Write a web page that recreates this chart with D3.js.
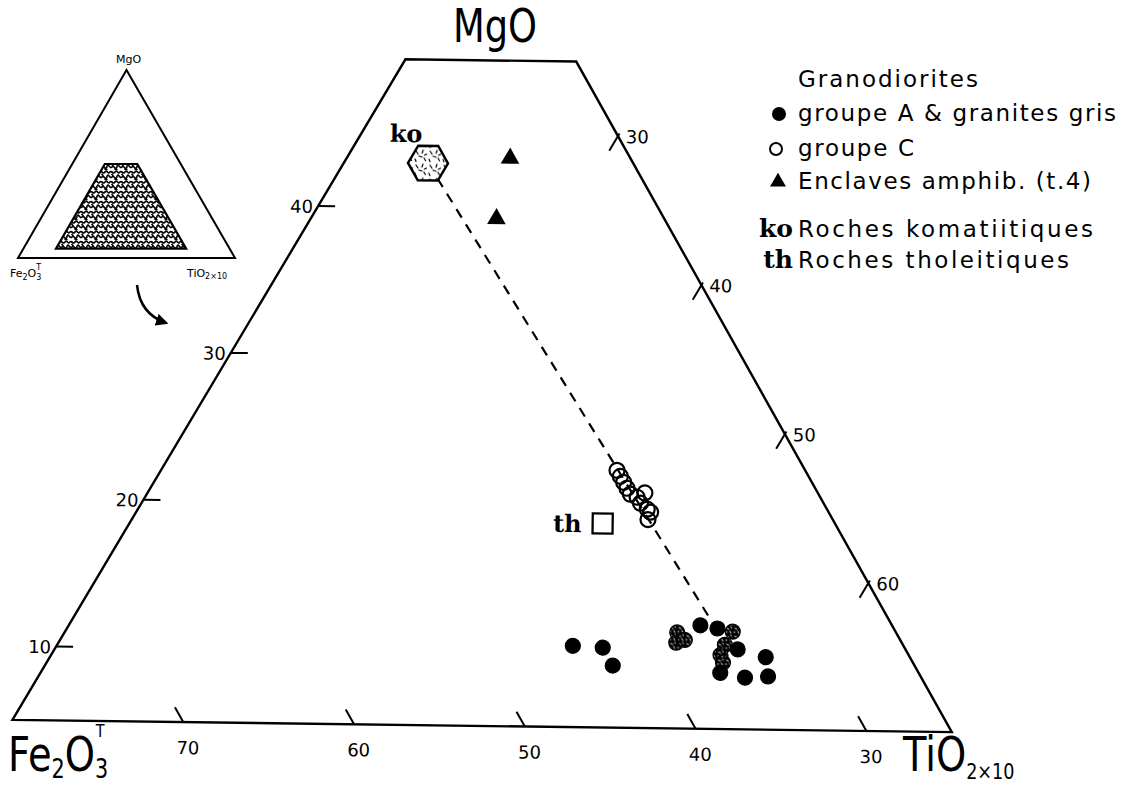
<!DOCTYPE html>
<html><head><meta charset="utf-8">
<script src="https://cdn.jsdelivr.net/npm/d3@7/dist/d3.min.js"></script>
<style>html,body{margin:0;padding:0;background:#fff;}svg{display:block;}</style>
</head><body>
<script>
// ===== DATA : ternary compositions (MgO / Fe2O3T / TiO2x10, %) =====
const frameMgO = [5, 50];      // truncated diagram : MgO from 5 to 50
const frameTiMin = 15;          // left side  : TiO2x10 = 15
const frameFeMin = 25;          // right side : Fe2O3T = 25
const insetFeMin = 20;          // locator trapezoid of the inset, as drawn
const mgoTicks = [10, 20, 30, 40];
const feTicks = [70, 60, 50, 40, 30];
const tiTicks = [30, 40, 50, 60];

// Granodiorites groupe A & granites gris (filled circles)
const groupeA_MgO = [10.5, 10.4, 9.2, 11.5, 10.8, 11.0, 12.0, 11.8, 11.6, 10.7, 10.0, 10.4, 9.5, 8.8, 8.5, 9.9, 8.6];
const groupeA_Fe  = [44.5, 42.8, 42.8, 37.9, 38.3, 37.7, 36.3, 35.4, 34.6, 35.5, 36.1, 34.9, 36.2, 36.7, 35.4, 33.5, 34.0];
const groupeA_Ti  = [45.0, 46.8, 48.0, 50.6, 50.9, 51.3, 51.7, 52.8, 53.8, 53.8, 53.9, 54.7, 54.3, 54.5, 56.1, 56.6, 57.4];

// Granodiorites groupe C (open circles)
const groupeC_MgO = [22.4, 22.0, 21.6, 21.2, 20.8, 20.6, 20.9, 20.2, 19.8, 19.6, 19.1];
const groupeC_Fe  = [36.1, 36.1, 36.1, 36.1, 36.1, 35.8, 35.2, 35.8, 35.6, 35.5, 35.9];
const groupeC_Ti  = [41.5, 41.9, 42.3, 42.7, 43.1, 43.6, 43.9, 44.0, 44.6, 44.9, 45.0];

// Enclaves amphiboliques (filled triangles)
const enclaves_MgO = [43.4, 39.3];
const enclaves_Fe  = [32.1, 34.9];
const enclaves_Ti  = [24.5, 25.8];

// Roches komatiitiques (ko) and tholeitiques (th)
const komatiite_MgO = [43.0], komatiite_Fe = [37.1], komatiite_Ti = [19.9];
const tholeiite_MgO = [18.8], tholeiite_Fe = [38.7], tholeiite_Ti = [42.5];

// dashed trend from komatiites toward granodiorites
const trend_MgO = [43.0, 12.2];
const trend_Fe  = [37.1, 35.5];
const trend_Ti  = [19.9, 52.3];

const legendTitle = "Granodiorites";
const legendSeries = ["groupe A & granites gris", "groupe C", "Enclaves amphib. (t.4)"];
const legendRocks = [["ko", "Roches komatiitiques"], ["th", "Roches tholeitiques"]];

// ===== DRAWING =====
const W = 1125, H = 787;
const FONT = "'DejaVu Sans', 'Noto Sans', sans-serif";
const SERIF = "'DejaVu Serif', 'Liberation Serif', serif";
const svg = d3.select("body").append("svg").attr("width", W).attr("height", H)
  .attr("viewBox", `0 0 ${W} ${H}`).style("font-family", FONT);
svg.append("rect").attr("width", W).attr("height", H).attr("fill", "#fff");
const defs = svg.append("defs");

function pattern(id, size, bg, fg, d, sw) {
  const p = defs.append("pattern").attr("id", id).attr("patternUnits", "userSpaceOnUse")
    .attr("width", size).attr("height", size);
  p.append("rect").attr("width", size).attr("height", size).attr("fill", bg);
  p.append("path").attr("d", d).attr("stroke", fg).attr("stroke-width", sw)
    .attr("fill", "none").attr("stroke-linecap", "round");
}
pattern("dashLight", 14, "#fff", "#000", "M2,2l2,3M9,1l-1,3M5,7l3,1M1,10l1,2.5M10,9l1.5,2.5M12.5,5l-2,1", 1.2);
pattern("squiggle", 10, "#fff", "#000", "M0,2c2,-2 3,3 5,0s3,3 5,0M0,7c2,2 2,-2 4,0s3,2 3,-1M8,5l2,2M2,4.5l1,1M5,9l2,1", 1.7);
pattern("darkSpeck", 8, "#000", "#fff", "M2,2l2,1M5,5l1,2M1,6l1,0M6,1l0.5,1", 0.9);

defs.append("marker").attr("id", "arrowHead").attr("viewBox", "0 0 10 10")
  .attr("refX", 8).attr("refY", 5).attr("markerWidth", 5).attr("markerHeight", 5)
  .attr("orient", "auto").attr("markerUnits", "strokeWidth")
  .append("path").attr("d", "M0,0L10,5L0,10Z").attr("fill", "#000");

// --- ternary projection (equilateral), main diagram ---
const xc = (m, t) => t + m / 2;
const yScale = d3.scaleLinear().domain(frameMgO).range([727, 61.4]);
const xScale = d3.scaleLinear()
  .domain([xc(frameMgO[0], frameTiMin), xc(frameMgO[0], 100 - frameMgO[0] - frameFeMin)])
  .range([16.8, 956.2]);
function proj(m, f, t) {
  const s = m + f + t, M = m * 100 / s, T = t * 100 / s;
  return [xScale(xc(M, T)), yScale(M)];
}
const main = svg.append("g").attr("transform", "rotate(0.75,562,393)");

const cornersOf = feMin => [
  [frameMgO[0], 100 - frameMgO[0] - frameTiMin, frameTiMin],
  [frameMgO[0], feMin, 100 - frameMgO[0] - feMin],
  [frameMgO[1], feMin, 100 - frameMgO[1] - feMin],
  [frameMgO[1], 100 - frameMgO[1] - frameTiMin, frameTiMin]
];
const corners = cornersOf(frameFeMin);
main.append("path").attr("d", d3.line()(corners.map(c => proj(...c))) + "Z")
  .attr("fill", "none").attr("stroke", "#000").attr("stroke-width", 2.4).attr("stroke-linejoin", "miter");

function unit(a, b) { const dx = b[0] - a[0], dy = b[1] - a[1], l = Math.hypot(dx, dy); return [dx / l, dy / l]; }
const TICK = 17;
const tickG = main.append("g").attr("stroke", "#000").attr("stroke-width", 2);
const labG = main.append("g").attr("font-size", 18).attr("fill", "#000");

// MgO ticks on left side
mgoTicks.forEach(m => {
  const p = proj(m, 100 - m - frameTiMin, frameTiMin);
  tickG.append("line").attr("x1", p[0]).attr("y1", p[1]).attr("x2", p[0] + TICK).attr("y2", p[1]);
  labG.append("text").attr("x", p[0] - 5).attr("y", p[1] + 7).attr("text-anchor", "end").text(m);
});
// Fe2O3 ticks on bottom side
feTicks.forEach(f => {
  const m0 = frameMgO[0];
  const p = proj(m0, f, 100 - m0 - f), q = proj(m0 + 1, f, 100 - m0 - f - 1), u = unit(p, q);
  tickG.append("line").attr("x1", p[0]).attr("y1", p[1]).attr("x2", p[0] + u[0] * TICK).attr("y2", p[1] + u[1] * TICK);
  labG.append("text").attr("x", p[0] + 5).attr("y", p[1] + 32).attr("text-anchor", "middle").text(f);
});
// TiO2 ticks on right side
tiTicks.forEach(t => {
  const m = 100 - frameFeMin - t;
  const p = proj(m, frameFeMin, t), q = proj(m - 1, frameFeMin + 1, t), u = unit(p, q);
  tickG.append("line").attr("x1", p[0] - u[0] * 3).attr("y1", p[1] - u[1] * 3)
    .attr("x2", p[0] + u[0] * TICK).attr("y2", p[1] + u[1] * TICK);
  labG.append("text").attr("x", p[0] + 8).attr("y", p[1] + 7).attr("text-anchor", "start").text(t);
});

const zip = (M, F, T) => M.map((m, i) => ({ m, f: F[i], t: T[i], p: proj(m, F[i], T[i]) }));
const trendPts = zip(trend_MgO, trend_Fe, trend_Ti);
const ptsA = zip(groupeA_MgO, groupeA_Fe, groupeA_Ti);
const ptsC = zip(groupeC_MgO, groupeC_Fe, groupeC_Ti);
const ptsE = zip(enclaves_MgO, enclaves_Fe, enclaves_Ti);
const ptsK = zip(komatiite_MgO, komatiite_Fe, komatiite_Ti);
const ptsT = zip(tholeiite_MgO, tholeiite_Fe, tholeiite_Ti);

main.append("path").attr("d", d3.line()(trendPts.map(d => d.p)))
  .attr("fill", "none").attr("stroke", "#000").attr("stroke-width", 2.2).attr("stroke-dasharray", "10,8");

const R = 7.5;
// filled circles; crowded ones get the overprinted speckle look
ptsA.forEach((d, i) => {
  d.n = ptsA.filter((e, j) => j !== i && Math.hypot(e.p[0] - d.p[0], e.p[1] - d.p[1]) < 16).length;
});
main.append("g").selectAll("circle").data(ptsA).join("circle")
  .attr("cx", d => d.p[0]).attr("cy", d => d.p[1]).attr("r", R)
  .attr("fill", d => d.n >= 2 ? "url(#darkSpeck)" : "#000").attr("stroke", "#000").attr("stroke-width", 1.2);
main.append("g").selectAll("circle").data(ptsC).join("circle")
  .attr("cx", d => d.p[0]).attr("cy", d => d.p[1]).attr("r", R)
  .attr("fill", "none").attr("stroke", "#000").attr("stroke-width", 2.2);

const tri = d3.symbol().type(d3.symbolTriangle).size(150);
main.append("g").selectAll("path").data(ptsE).join("path")
  .attr("transform", d => `translate(${d.p[0]},${d.p[1]})`).attr("d", tri).attr("fill", "#000");

// komatiite hexagon
const hexR = 20;
const hex = d3.range(6).map(k => [hexR * Math.cos(k * Math.PI / 3), hexR * Math.sin(k * Math.PI / 3)]);
main.append("g").selectAll("path").data(ptsK).join("path")
  .attr("transform", d => `translate(${d.p[0]},${d.p[1]})`)
  .attr("d", d3.line()(hex) + "Z").attr("fill", "url(#dashLight)").attr("stroke", "#000").attr("stroke-width", 2.5);
main.append("g").selectAll("text").data(ptsK).join("text")
  .attr("x", d => d.p[0] - 6).attr("y", d => d.p[1] - 21).attr("text-anchor", "end")
  .attr("font-family", SERIF).attr("font-weight", "bold").attr("font-size", 24).text("ko");

// tholeiite square
main.append("g").selectAll("rect").data(ptsT).join("rect")
  .attr("x", d => d.p[0] - 10).attr("y", d => d.p[1] - 10).attr("width", 20).attr("height", 20)
  .attr("fill", "#fff").attr("stroke", "#000").attr("stroke-width", 2.3);
main.append("g").selectAll("text").data(ptsT).join("text")
  .attr("x", d => d.p[0] - 21).attr("y", d => d.p[1] + 9).attr("text-anchor", "end")
  .attr("font-family", SERIF).attr("font-weight", "bold").attr("font-size", 24).text("th");

// helper: label made of parts with sub/superscripts
function composite(parent, x, y, sx, list) {
  const g = parent.append("g").attr("transform", `translate(${x},${y}) scale(${sx},1)`);
  let cx = 0;
  const starts = [];
  list.forEach(p => {
    const e = g.append("text").attr("x", cx).attr("y", p.dy || 0).attr("font-size", p.size).text(p.t);
    starts.push(cx);
    cx += e.node().getComputedTextLength();
  });
  return { g, starts };
}
// main axis titles
svg.append("text").attr("x", 495).attr("y", 42).attr("text-anchor", "middle")
  .attr("font-size", 46).attr("transform", "translate(495,0) scale(0.8,1) translate(-495,0)").text("MgO");
{
  const c = composite(svg, 8, 771, 0.8, [
    { t: "Fe", size: 48 }, { t: "2", size: 26, dy: 7 }, { t: "O", size: 48 }, { t: "3", size: 26, dy: 7 }]);
  c.g.append("text").attr("x", c.starts[3] + 1).attr("y", -34).attr("font-size", 18).text("T");
}
composite(svg, 903, 771, 0.8, [{ t: "TiO", size: 48 }, { t: "2\u00d710", size: 22, dy: 8 }]);

// ===== inset (full triangle) =====
const insetX = d3.scaleLinear().domain([0, 100]).range([18, 235]);
const insetY = d3.scaleLinear().domain([0, 100]).range([258, 70]);
const iproj = (m, f, t) => [insetX(xc(m, t)), insetY(m)];
const inset = svg.append("g");
inset.append("path").attr("d", d3.line()([iproj(100, 0, 0), iproj(0, 100, 0), iproj(0, 0, 100)]) + "Z")
  .attr("fill", "none").attr("stroke", "#000").attr("stroke-width", 2);
inset.append("path").attr("d", d3.line()(cornersOf(insetFeMin).map(c => iproj(...c))) + "Z")
  .attr("fill", "url(#squiggle)").attr("stroke", "#000").attr("stroke-width", 2.2);
const apex = iproj(100, 0, 0);
inset.append("text").attr("x", apex[0] + 2).attr("y", apex[1] - 7).attr("text-anchor", "middle")
  .attr("font-size", 11).text("MgO");
{
  const c = composite(inset, 10, 277, 1, [
    { t: "Fe", size: 11 }, { t: "2", size: 8, dy: 3 }, { t: "O", size: 11 }, { t: "3", size: 8, dy: 3 }]);
  c.g.append("text").attr("x", c.starts[3]).attr("y", -7).attr("font-size", 8).text("T");
}
composite(inset, 187, 277, 1, [{ t: "TiO", size: 11 }, { t: "2\u00d710", size: 8, dy: 2 }]);
// arrow
svg.append("path").attr("d", "M137,285 Q140,314 166,323").attr("fill", "none")
  .attr("stroke", "#000").attr("stroke-width", 2.5).attr("marker-end", "url(#arrowHead)");

// ===== legend =====
const leg = svg.append("g").attr("font-size", 23).attr("fill", "#000");
leg.append("text").attr("x", 798).attr("y", 87).attr("textLength", 180).text(legendTitle);
const rowY = [121, 156, 189];
const rowW = [318, 116, 293];
legendSeries.forEach((s, i) => {
  leg.append("text").attr("x", 798).attr("y", rowY[i]).attr("textLength", rowW[i]).text(s);
});
leg.append("circle").attr("cx", 779).attr("cy", rowY[0] - 7).attr("r", 7).attr("fill", "#000");
leg.append("circle").attr("cx", 776).attr("cy", rowY[1] - 7).attr("r", 6).attr("fill", "none").attr("stroke", "#000").attr("stroke-width", 2);
leg.append("path").attr("transform", `translate(778,${rowY[2] - 7})`).attr("d", d3.symbol().type(d3.symbolTriangle).size(110)).attr("fill", "#000");
const rockY = [237, 268], rockW = [295, 271];
legendRocks.forEach((r, i) => {
  leg.append("text").attr("x", 793).attr("y", rockY[i]).attr("text-anchor", "end")
    .attr("font-family", SERIF).attr("font-weight", "bold").attr("font-size", 25).text(r[0]);
  leg.append("text").attr("x", 798).attr("y", rockY[i]).attr("textLength", rockW[i]).text(r[1]);
});
</script>
</body></html>
